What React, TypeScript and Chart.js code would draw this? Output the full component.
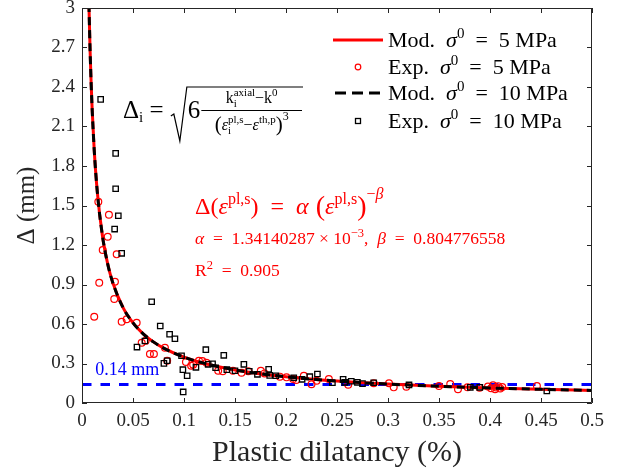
import React, { useEffect, useRef } from 'react';
import { Chart, registerables } from 'chart.js';
Chart.register(...registerables);

// ---- data ----
const modelX = [0.0068, 0.007, 0.008, 0.009, 0.01, 0.012, 0.015, 0.02, 0.025, 0.03, 0.04, 0.05, 0.06, 0.07, 0.08, 0.1, 0.12, 0.15, 0.2, 0.25, 0.3, 0.35, 0.4, 0.45, 0.5];
const modelY = [3.03, 2.962, 2.66, 2.419, 2.223, 1.919, 1.604, 1.272, 1.063, 0.918, 0.7285, 0.6086, 0.5256, 0.4642, 0.4169, 0.3484, 0.3008, 0.2514, 0.1995, 0.1666, 0.1439, 0.1271, 0.1142, 0.1038, 0.0954];

const exp5X = [0.012, 0.016, 0.0169, 0.0203, 0.0252, 0.0264, 0.0316, 0.0323, 0.034, 0.0389, 0.0438, 0.0536, 0.0585, 0.0624, 0.0666, 0.0705, 0.0813, 0.0835, 0.1019, 0.107, 0.109, 0.1146, 0.118, 0.122, 0.1335, 0.138, 0.148, 0.1564, 0.163, 0.1753, 0.179, 0.194, 0.2005, 0.207, 0.21, 0.2175, 0.225, 0.23, 0.242, 0.261, 0.286, 0.301, 0.3056, 0.318, 0.35, 0.361, 0.3686, 0.378, 0.3898, 0.398, 0.401, 0.403, 0.405, 0.406, 0.408, 0.41, 0.412, 0.446];
const exp5Y = [0.655, 1.528, 0.913, 1.162, 1.263, 1.43, 0.79, 0.921, 1.129, 0.617, 0.636, 0.61, 0.458, 0.473, 0.372, 0.372, 0.42, 0.321, 0.311, 0.283, 0.29, 0.321, 0.319, 0.306, 0.245, 0.241, 0.245, 0.23, 0.241, 0.245, 0.225, 0.2, 0.195, 0.182, 0.175, 0.207, 0.142, 0.169, 0.182, 0.139, 0.15, 0.15, 0.119, 0.124, 0.129, 0.144, 0.104, 0.119, 0.116, 0.125, 0.112, 0.135, 0.105, 0.118, 0.128, 0.11, 0.122, 0.129];

const exp10X = [0.0183, 0.033, 0.033, 0.0356, 0.032, 0.0389, 0.0539, 0.0617, 0.0683, 0.0767, 0.0803, 0.0835, 0.0859, 0.0911, 0.0976, 0.0989, 0.0992, 0.1031, 0.1117, 0.1214, 0.1237, 0.128, 0.131, 0.139, 0.142, 0.15, 0.1587, 0.164, 0.172, 0.183, 0.184, 0.19, 0.2076, 0.2158, 0.2233, 0.2308, 0.2455, 0.256, 0.2576, 0.264, 0.27, 0.275, 0.286, 0.3206, 0.3807, 0.39, 0.4557];
const exp10Y = [2.306, 1.896, 1.627, 1.422, 1.321, 1.137, 0.425, 0.471, 0.769, 0.585, 0.301, 0.321, 0.522, 0.488, 0.359, 0.253, 0.084, 0.207, 0.271, 0.405, 0.294, 0.298, 0.268, 0.362, 0.253, 0.245, 0.294, 0.241, 0.218, 0.256, 0.21, 0.207, 0.192, 0.18, 0.2, 0.22, 0.154, 0.18, 0.157, 0.165, 0.157, 0.147, 0.154, 0.137, 0.119, 0.119, 0.091];

const thresholdX = [0, 0.5];
const thresholdValue = 0.14;
const thresholdLabel = '0.14 mm';

const xMin = 0, xMax = 0.5, xStep = 0.05;
const yMin = 0, yMax = 3, yStep = 0.3;

const xTitle = 'Plastic dilatancy (%)';
const yTitle = 'Δ (mm)';

const EQ = '\u2002=\u2002';

const legendItems = [
  { pre: 'Mod.\u2002', val: EQ + '5 MPa', kind: 'line', color: '#ff0000' },
  { pre: 'Exp.\u2002', val: EQ + '5 MPa', kind: 'circle', color: '#ff0000' },
  { pre: 'Mod.\u2002', val: EQ + '10 MPa', kind: 'dash', color: '#000000' },
  { pre: 'Exp.\u2002', val: EQ + '10 MPa', kind: 'square', color: '#000000' },
];

const FF = '"Liberation Serif", "Times New Roman", serif';
const AX = '#262626';

type Run = { t: string; s: number; dy?: number; it?: boolean; u?: string; us?: number; udy?: number };

function drawRuns(ctx: CanvasRenderingContext2D, x: number, y: number, runs: Run[], draw = true): number {
  let cx = x;
  for (const r of runs) {
    ctx.font = `${r.it ? 'italic ' : ''}${r.s}px ${FF}`;
    const w = ctx.measureText(r.t).width;
    if (draw) ctx.fillText(r.t, cx, y + (r.dy || 0));
    let w2 = 0;
    if (r.u) {
      ctx.font = `${r.us || r.s}px ${FF}`;
      w2 = ctx.measureText(r.u).width;
      if (draw) ctx.fillText(r.u, cx, y + (r.udy || 0));
    }
    cx += Math.max(w, w2);
  }
  return cx;
}

const fmt = (v: number) => String(+Number(v).toFixed(2));

const decorPlugin = {
  id: 'decor',
  afterDraw(chart: any) {
    const ctx: CanvasRenderingContext2D = chart.ctx;
    const { left, right, top, bottom } = chart.chartArea;
    const xs = chart.scales.x, ys = chart.scales.y;
    ctx.save();
    // box and inner ticks
    ctx.strokeStyle = AX;
    ctx.lineWidth = 1;
    ctx.beginPath();
    ctx.rect(left + 0.5, top + 0.5, right - left - 1, bottom - top - 1);
    const tl = 5;
    for (const t of xs.ticks) {
      const px = Math.round(xs.getPixelForValue(t.value)) + 0.5;
      ctx.moveTo(px, bottom); ctx.lineTo(px, bottom - tl);
      ctx.moveTo(px, top); ctx.lineTo(px, top + tl);
    }
    for (const t of ys.ticks) {
      const py = Math.round(ys.getPixelForValue(t.value)) + 0.5;
      ctx.moveTo(left, py); ctx.lineTo(left + tl, py);
      ctx.moveTo(right, py); ctx.lineTo(right - tl, py);
    }
    ctx.stroke();

    ctx.textBaseline = 'alphabetic';
    ctx.textAlign = 'left';

    // threshold label
    ctx.fillStyle = '#0000ff';
    ctx.font = `18px ${FF}`;
    ctx.fillText(thresholdLabel, xs.getPixelForValue(0.013), ys.getPixelForValue(thresholdValue) - 10);

    // legend
    const lx0 = 333, lx1 = 383, tx = 388;
    const rowsY = [40, 67, 93, 121];
    legendItems.forEach((it, i) => {
      const y = rowsY[i];
      ctx.strokeStyle = it.color;
      ctx.fillStyle = it.color;
      ctx.setLineDash([]);
      if (it.kind === 'line') {
        ctx.lineWidth = 3;
        ctx.beginPath(); ctx.moveTo(lx0, y); ctx.lineTo(lx1, y); ctx.stroke();
      } else if (it.kind === 'dash') {
        ctx.lineWidth = 3;
        ctx.setLineDash([11, 6]);
        ctx.beginPath(); ctx.moveTo(lx0 + 2, y); ctx.lineTo(lx1, y); ctx.stroke();
        ctx.setLineDash([]);
      } else if (it.kind === 'circle') {
        ctx.lineWidth = 1.2;
        ctx.beginPath(); ctx.arc((lx0 + lx1) / 2, y, 2.8, 0, Math.PI * 2); ctx.stroke();
      } else {
        ctx.lineWidth = 1.3;
        ctx.strokeRect((lx0 + lx1) / 2 - 2.5, y - 2.5, 5, 5);
      }
      ctx.fillStyle = '#000';
      drawRuns(ctx, tx, y + 7, [
        { t: it.pre, s: 22 },
        { t: 'σ', s: 22, it: true },
        { t: '0', s: 15, dy: -9 },
        { t: it.val, s: 22 },
      ]);
    });

    // black formula
    ctx.fillStyle = '#000';
    ctx.strokeStyle = '#000';
    let cx = drawRuns(ctx, 123, 118, [
      { t: 'Δ', s: 25 },
      { t: 'i', s: 15, dy: 4 },
      { t: ' = ', s: 25 },
    ]);
    ctx.lineWidth = 1.2;
    ctx.beginPath();
    ctx.moveTo(cx + 1, 116);
    ctx.lineTo(cx + 4, 114);
    ctx.lineTo(cx + 10, 141);
    ctx.lineTo(cx + 17, 87);
    ctx.lineTo(303, 87);
    ctx.stroke();
    const six = drawRuns(ctx, cx + 18, 118, [{ t: '6', s: 25 }]);
    const barL = six + 1, barR = 302;
    ctx.lineWidth = 1;
    ctx.beginPath(); ctx.moveTo(barL, 110.5); ctx.lineTo(barR, 110.5); ctx.stroke();
    const num: Run[] = [
      { t: 'k', s: 16 },
      { t: 'axial', s: 11, dy: -7, u: 'i', us: 11, udy: 4 },
      { t: '−k', s: 16 },
      { t: '0', s: 11, dy: -7 },
    ];
    const nw = drawRuns(ctx, 0, 0, num, false);
    drawRuns(ctx, (barL + barR) / 2 - nw / 2, 103, num);
    const den: Run[] = [
      { t: '(', s: 21, dy: 1 },
      { t: 'ε', s: 16, it: true },
      { t: 'pl,s', s: 11, dy: -7, u: 'i', us: 11, udy: 4 },
      { t: '−', s: 16 },
      { t: 'ε', s: 16, it: true },
      { t: 'th,p', s: 11, dy: -7 },
      { t: ')', s: 21, dy: 1 },
      { t: '3', s: 12, dy: -10 },
    ];
    const dw = drawRuns(ctx, 0, 0, den, false);
    drawRuns(ctx, (barL + barR) / 2 - dw / 2, 130, den);

    // red formula
    ctx.fillStyle = '#ff0000';
    drawRuns(ctx, 195, 214, [
      { t: 'Δ(', s: 24 },
      { t: 'ε', s: 24, it: true },
      { t: 'pl,s', s: 16, dy: -10 },
      { t: ')' + EQ, s: 24 },
      { t: 'α', s: 24, it: true },
      { t: ' (', s: 28, dy: 1 },
      { t: 'ε', s: 24, it: true },
      { t: 'pl,s', s: 16, dy: -10 },
      { t: ')', s: 28, dy: 1 },
      { t: '−', s: 16, dy: -15 },
      { t: 'β', s: 16, dy: -15, it: true },
    ]);
    drawRuns(ctx, 195, 244, [
      { t: 'α', s: 17.5, it: true },
      { t: EQ + '1.34140287 × 10', s: 17.5 },
      { t: '−3', s: 12.5, dy: -7 },
      { t: ',  ', s: 17.5 },
      { t: 'β', s: 17.5, it: true },
      { t: EQ + '0.804776558', s: 17.5 },
    ]);
    drawRuns(ctx, 195, 276, [
      { t: 'R', s: 17.5 },
      { t: '2', s: 12.5, dy: -7 },
      { t: EQ + '0.905', s: 17.5 },
    ]);
    ctx.restore();
  },
};

export default function App() {
  const ref = useRef<HTMLCanvasElement>(null);
  useEffect(() => {
    if (!ref.current) return;
    const pts = (xs: number[], ys: number[]) => xs.map((x, i) => ({ x, y: ys[i] }));
    const chart = new Chart(ref.current, {
      type: 'scatter',
      data: {
        datasets: [
          {
            label: 'Threshold',
            data: thresholdX.map((x) => ({ x, y: thresholdValue })),
            showLine: true,
            borderColor: '#0000ff',
            borderWidth: 3,
            borderDash: [9.5, 9],
            pointRadius: 0,
            order: 5,
          },
          {
            label: 'Mod. σ0 = 5 MPa',
            data: pts(modelX, modelY),
            showLine: true,
            borderColor: '#ff0000',
            borderWidth: 3,
            pointRadius: 0,
            cubicInterpolationMode: 'monotone',
            order: 4,
          },
          {
            label: 'Exp. σ0 = 5 MPa',
            data: pts(exp5X, exp5Y),
            showLine: false,
            pointStyle: 'circle',
            pointRadius: 3.4,
            borderColor: '#ff0000',
            backgroundColor: 'rgba(0,0,0,0)',
            pointBorderWidth: 1.2,
            order: 3,
          },
          {
            label: 'Mod. σ0 = 10 MPa',
            data: pts(modelX, modelY),
            showLine: true,
            borderColor: '#000000',
            borderWidth: 3,
            borderDash: [8, 5],
            pointRadius: 0,
            cubicInterpolationMode: 'monotone',
            order: 2,
          },
          {
            label: 'Exp. σ0 = 10 MPa',
            data: pts(exp10X, exp10Y),
            showLine: false,
            pointStyle: 'rect',
            pointRadius: 3.8,
            borderColor: '#000000',
            backgroundColor: 'rgba(0,0,0,0)',
            pointBorderWidth: 1.3,
            order: 1,
          },
        ],
      },
      options: {
        responsive: false,
        animation: false,
        layout: { padding: { left: 0, right: 31, top: 8, bottom: 0 } },
        plugins: { legend: { display: false }, tooltip: { enabled: false } },
        scales: {
          x: {
            type: 'linear',
            min: xMin,
            max: xMax,
            grid: { display: false, drawTicks: false },
            border: { display: false },
            ticks: { stepSize: xStep, color: AX, font: { family: FF, size: 19 }, padding: 7, maxRotation: 0, callback: (v: any) => fmt(v) },
            title: { display: true, text: xTitle, color: AX, font: { family: FF, size: 30 }, padding: { top: 0, bottom: 0 } },
            afterFit: (s: any) => { s.height = 68; s.paddingLeft = 0; s.paddingRight = 0; },
          },
          y: {
            type: 'linear',
            min: yMin,
            max: yMax,
            grid: { display: false, drawTicks: false },
            border: { display: false },
            ticks: { stepSize: yStep, color: AX, font: { family: FF, size: 19 }, padding: 7, callback: (v: any) => fmt(v) },
            title: { display: true, text: yTitle, color: AX, font: { family: FF, size: 25 }, padding: { top: 12, bottom: 0 } },
            afterFit: (s: any) => { s.width = 82; s.paddingTop = 0; s.paddingBottom = 0; },
          },
        },
      },
      plugins: [decorPlugin],
    } as any);
    return () => chart.destroy();
  }, []);
  return (
    <div style={{ position: 'absolute', left: 0, top: 0, width: 623, height: 471, background: '#fff' }}>
      <canvas ref={ref} width={623} height={471} />
    </div>
  );
}
